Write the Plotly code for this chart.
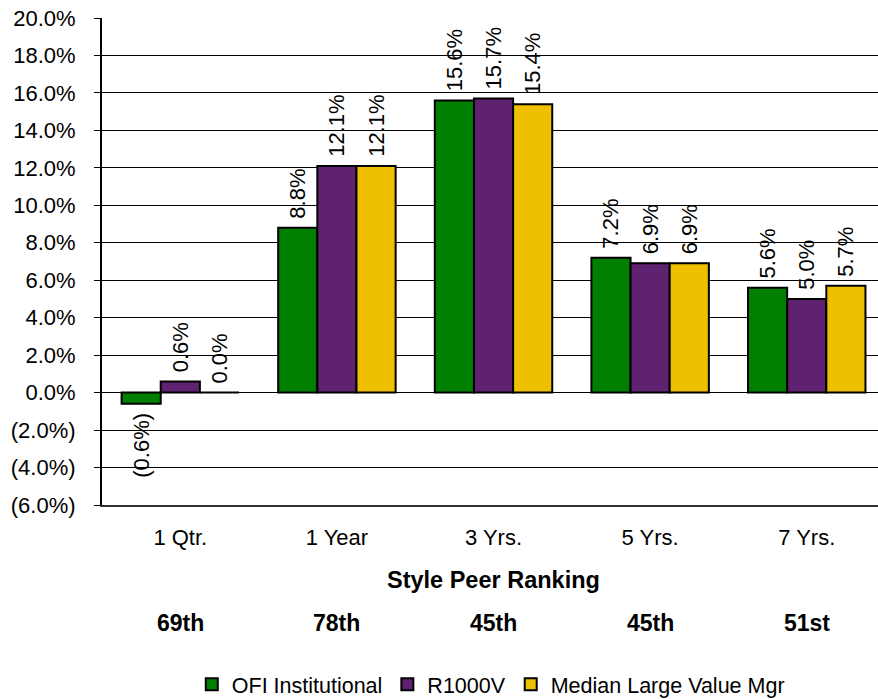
import plotly.graph_objects as go

categories = ["1 Qtr.", "1 Year", "3 Yrs.", "5 Yrs.", "7 Yrs."]
rankings = ["69th", "78th", "45th", "45th", "51st"]
series_names = ["OFI Institutional", "R1000V", "Median Large Value Mgr"]
ofi = [-0.6, 8.8, 15.6, 7.2, 5.6]
r1000v = [0.6, 12.1, 15.7, 6.9, 5.0]
median = [0.0, 12.1, 15.4, 6.9, 5.7]
colors = ["#007F00", "#5F2270", "#EEC000"]
y_ticks = [-6, -4, -2, 0, 2, 4, 6, 8, 10, 12, 14, 16, 18, 20]

FONT = "Liberation Sans, Arial, sans-serif"
FS = 22
NB = "\u00a0"


def fmt(v):
    return f"({abs(v):.1f}%)" if v < 0 else f"{v:.1f}%"


def label(v):
    # small pad between bar end and rotated label
    return fmt(v) + NB if v < 0 else NB + fmt(v)


fig = go.Figure()
for name, vals, col in zip(series_names, [ofi, r1000v, median], colors):
    fig.add_trace(go.Bar(
        x=categories, y=vals, name=name,
        marker=dict(color=col, line=dict(color="black", width=2)),
        text=[label(v) for v in vals], textposition="outside", textangle=-90,
        textfont=dict(family=FONT, size=FS, color="black"),
        cliponaxis=False, constraintext="none",
    ))

for i, r in enumerate(rankings):
    fig.add_annotation(x=categories[i], y=-0.242, xref="x", yref="paper",
                       text=f"<b>{r}</b>", showarrow=False, yanchor="middle",
                       font=dict(family=FONT, size=23, color="black"))
fig.add_annotation(x=categories[2], y=-0.154, xref="x", yref="paper",
                   text="<b>Style Peer Ranking</b>", showarrow=False, yanchor="middle",
                   font=dict(family=FONT, size=23.5, color="black"))

fig.update_layout(
    width=878, height=699,
    margin=dict(l=102, r=0, t=18, b=194),
    paper_bgcolor="white", plot_bgcolor="white",
    barmode="group", bargap=0.25, bargroupgap=0,
    font=dict(family=FONT, size=FS, color="black"),
    showlegend=True,
    legend=dict(orientation="h", x=0.501, xanchor="center",
                yref="container", y=0.021, yanchor="middle",
                font=dict(family=FONT, size=21.5, color="black"),
                itemwidth=30, tracegroupgap=0, traceorder="normal"),
    xaxis=dict(range=[-0.5, 4.455], showgrid=False, ticks="", showline=True,
               linecolor="#333333", linewidth=2, ticklabelstandoff=12,
               automargin=False,
               tickfont=dict(family=FONT, size=FS, color="black")),
    yaxis=dict(range=[-6, 20], tickvals=y_ticks, ticktext=[fmt(v) for v in y_ticks],
               showgrid=True, gridcolor="black", gridwidth=1,
               zeroline=True, zerolinecolor="black", zerolinewidth=1,
               showline=True, linecolor="black", linewidth=2,
               ticks="outside", ticklen=6, tickcolor="black",
               ticklabelstandoff=14,
               automargin=False,
               tickfont=dict(family=FONT, size=FS, color="black")),
)

fig.write_html("out.html", config={"displayModeBar": False},
               post_script="document.body.style.margin='0';document.body.style.overflow='hidden';")
